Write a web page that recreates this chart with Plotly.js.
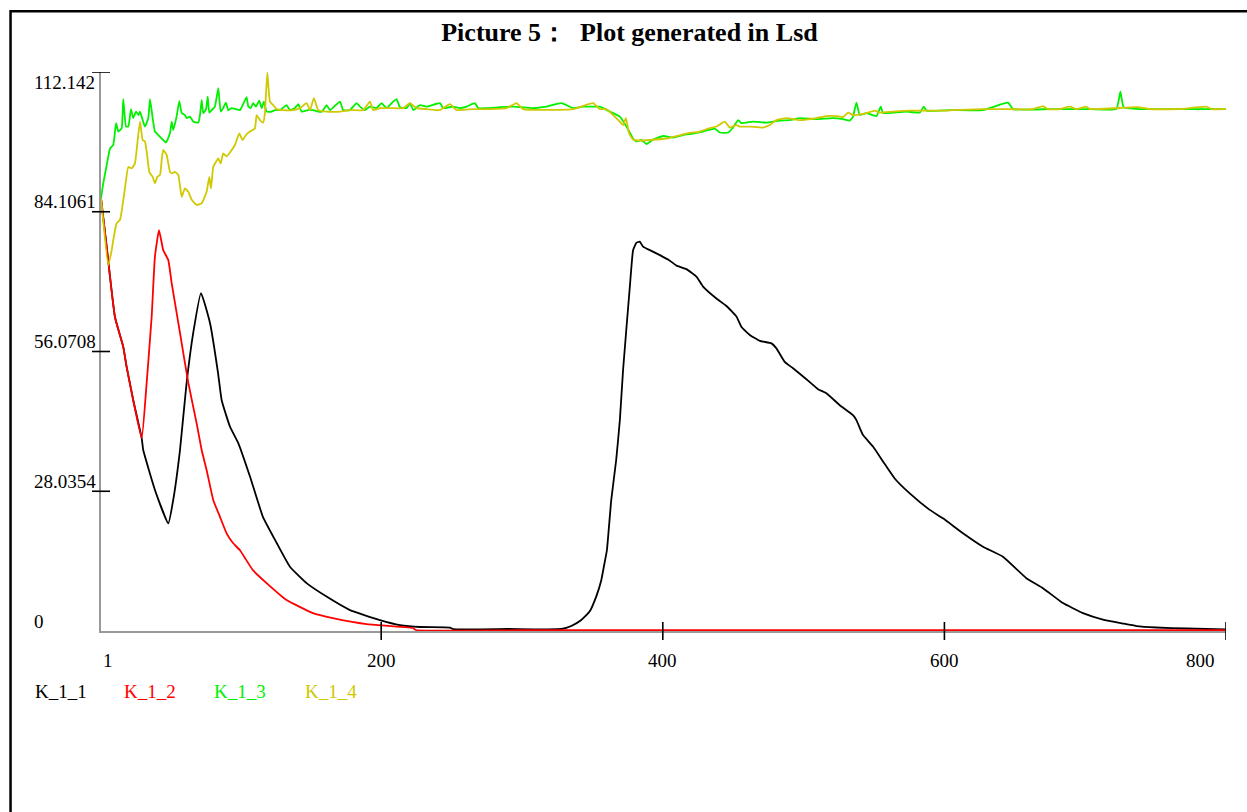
<!DOCTYPE html>
<html>
<head>
<meta charset="utf-8">
<script src="https://cdn.plot.ly/plotly-3.0.1.min.js"></script>
<style>
  html, body { margin: 0; padding: 0; background: #ffffff; }
  #chart { width: 1247px; height: 812px; }
</style>
</head>
<body>
<div id="chart"></div>
<script>
// ---------- data (time step, value) ----------
const chartTitle = "Picture 5：  Plot generated in Lsd";
const seriesNames = ["K_1_1", "K_1_2", "K_1_3", "K_1_4"];

const xTickVals = [1, 200, 400, 600, 800];
const xTickText = ["1", "200", "400", "600", "800"];
const yTickVals = [0, 28.0354, 56.0708, 84.1061, 112.142];
const yTickText = ["0", "28.0354", "56.0708", "84.1061", "112.142"];

const K_1_1 = [
  [1,86.8],[5.3,76.4],[10.9,63.0],[16.8,57.0],[19.2,53.0],[23.9,46.3],[29.9,38.7],
  [31.0,36.3],[39.3,28.3],[48.8,21.6],[52.3,26.3],[57.1,36.3],[61.8,49.8],[66.5,59.8],
  [72.0,67.8],[78.4,61.8],[84.1,51.8],[86.7,46.3],[92.6,41.0],[98.5,37.7],[106.8,31.0],
  [116.0,22.9],[125.7,17.7],[135.2,12.9],[147.0,9.6],[161.2,6.9],[177.8,4.2],[199.1,2.2],
  [213.3,1.2],[227.5,0.8],[248.8,0.7],[251,0.4],[290,0.4],[328.1,0.4],[335.0,1.0],
  [342.1,2.2],[348.0,3.9],[352.7,6.9],[356.3,10.2],[358.6,13.6],[360.3,16.2],[363.4,26.3],
  [366.9,34.3],[369.5,42.3],[371.8,52.4],[376.6,69.1],[378.9,76.4],
  [381.3,77.9],[383.7,78.1],[386.0,77.1],[390.8,76.4],[397.9,75.4],[405.0,74.3],[409.7,73.3],
  [416.8,72.6],[423.9,71.1],[428.6,69.1],[438.1,66.7],[445.2,65.2],[452.3,63.1],[455.9,61.0],
  [461.8,59.4],[468.9,58.2],[477.2,57.7],[480.7,56.7],[486.6,54.0],[492.5,52.7],[502.0,50.5],
  [510.3,48.5],[516.2,47.7],[525.7,45.3],[535.1,43.3],[537.5,42.3],[542.2,39.3],[549.3,37.0],
  [556.4,34.0],[564.7,30.6],[575.4,27.6],[589.6,24.3],[599.0,22.6],[613.2,19.6],[627.4,16.9],
  [641.6,14.9],[658.2,10.6],[670.0,8.6],[684.2,5.6],[698.4,3.6],[712.6,2.3],[726.8,1.5],
  [736.3,1.0],[750.5,0.7],[771.8,0.5],[800,0.3]
];

const K_1_2 = [
  [1,86.8],[5.3,76.4],[10.9,63.0],[16.8,57.0],[19.2,53.0],[23.9,46.3],[29.9,38.7],
  [33.4,49.7],[37.0,63.1],[39.3,75.1],[42.2,80.4],[45.2,76.4],[48.8,74.4],[51.2,69.8],
  [57.1,59.8],[63.0,49.8],[68.9,41.7],[72.5,36.3],[76.0,32.3],[80.7,26.3],[85.5,22.9],
  [90.2,19.6],[94.9,17.6],[99.7,16.2],
  [108.9,12.2],[118.6,9.6],[132.8,6.2],[151.5,3.6],[165.7,2.6],[189.6,1.4],[222.5,0.6],
  [224.6,0.2],[300,0.15],[500,0.15],[700,0.15],[800,0.15]
];

const K_1_3 = [
  [1,86.8],[2.6,89.8],[6.2,95.2],[7.4,96.8],[9.7,97.5],[11.7,101.9],[13.3,100.2],[15.7,100.9],
  [16.8,106.7],[18.8,101.2],[20.4,101.2],[22.3,104.7],[23.9,102.9],[25.9,104.2],[27.5,103.5],
  [28.7,104.2],[30.6,102.5],[32.2,101.2],[34.6,102.9],[35.8,106.7],[37.7,102.9],[39.3,100.2],
  [41.7,99.5],[44.1,98.8],[47.2,98.0],[50.0,99.9],[51.2,102.2],[52.3,100.5],[54.7,103.2],
  [56.6,106.3],[58.3,103.9],[60.6,103.5],[61.8,102.9],[64.2,103.2],[66.5,102.2],[70.1,102.0],
  [71.3,103.5],[72.5,106.5],[73.6,103.9],[75.6,104.7],[76.8,107.2],[77.9,104.0],[79.6,104.5],
  [81.9,105.2],[84.3,108.9],[86.0,104.2],[87.8,104.9],[89.7,106.0],[91.4,104.5],[93.8,104.9],
  [96.8,104.7],[99.7,104.5],[104.4,107.1],[105.6,105.2],[107.3,104.9],[109.1,105.9],[111.0,105.2],
  [113.4,106.4],[115.1,104.9],[116.7,106.2],[118.6,104.2],[122.2,104.2],[124.5,104.5],[128.1,104.5],
  [132.8,105.5],[135.2,104.5],[138.7,104.9],[141.1,105.7],[143.5,104.2],[148.0,104.5],[151.5,104.5],
  [155.3,104.2],[157.9,104.2],[161.2,105.5],[163.6,104.5],[170.7,106.2],[173.0,104.5],[177.8,104.5],
  [182.5,105.9],[184.9,105.2],[188.4,104.5],[192.0,105.2],[196.7,104.9],[200.3,105.9],[203.8,104.9],
  [208.5,106.2],[210.9,106.7],[213.3,105.1],[218.0,104.9],[220.4,105.9],[222.8,104.5],[227.5,105.5],
  [232.2,105.2],[241.7,105.9],[244.0,104.9],[251.1,105.2],[255.9,104.9],[260.6,105.2],[266.5,105.9],
  [268.9,104.9],[274.8,104.9],[293.7,105.2],[307.9,104.9],[317.4,105.2],[328.1,105.9],[336.3,104.9],
  [343.4,105.2],[350.5,105.2],[355.3,105.2],[357.6,104.9],[362.4,104.2],[364.7,103.9],[369.5,103.2],
  [374.2,101.2],[378.9,98.8],[381.3,98.2],[384.9,98.5],[388.4,97.7],[393.1,98.6],[400.2,99.3],
  [407.3,99.0],[414.4,99.5],[421.5,99.8],[428.6,100.2],[436.9,100.8],[440.5,100.0],[446.4,100.0],
  [449.9,101.0],[453.5,102.5],[455.9,101.9],[464.1,102.2],[473.6,102.0],[483.1,102.4],[490.2,102.5],
  [497.3,102.9],[509.1,102.7],[520.9,102.9],[528.0,102.7],[532.8,102.4],[535.1,103.2],[537.5,106.0],
  [539.9,103.5],[544.6,103.9],[551.7,103.3],[554.8,105.2],[556.4,103.9],[563.5,104.0],[573.0,104.2],
  [582.5,104.0],[585.3,105.2],[587.2,104.4],[603.8,104.5],[627.4,104.5],[645.2,106.0],[648.7,104.7],
  [674.8,104.7],[703.2,104.7],[722.1,104.7],[725.0,108.2],[727.3,105.1],[738.7,104.7],[767.1,104.7],
  [800,104.7]
];

const K_1_4 = [
  [1,86.8],[6.2,73.4],[8.6,76.4],[9.7,78.4],[12.1,81.8],[14.5,82.5],[18.0,88.8],[20.4,93.1],
  [22.8,92.8],[25.1,93.8],[26.8,97.8],[28.7,102.2],[30.6,98.5],[32.2,98.2],[33.9,95.2],[35.3,92.1],
  [37.7,91.1],[39.3,89.8],[41.0,91.1],[42.9,91.5],[44.1,94.5],[45.2,96.5],[47.6,95.5],[50.0,92.1],
  [51.2,91.8],[53.5,92.1],[55.9,91.5],[58.3,87.1],[60.6,88.8],[63.0,88.1],[65.4,86.5],[68.9,85.5],
  [72.5,85.8],[76.0,88.1],[77.9,91.1],[79.1,88.8],[80.7,93.1],[82.6,94.1],[84.3,94.8],[86.0,93.8],
  [87.8,95.8],[90.2,95.2],[93.1,96.2],[96.1,97.5],[99.2,99.8],[101.6,98.5],[103.9,99.5],[106.8,100.2],
  [110.3,100.8],[111.5,103.5],[113.9,102.5],[116.2,102.0],[117.4,103.9],[119.1,112.0],[121.0,106.2],
  [123.3,105.5],[125.7,104.7],[130.2,104.5],[137.3,104.5],[142.3,104.9],[147.0,105.9],[149.4,104.5],
  [152.2,106.9],[155.3,104.5],[161.2,104.2],[170.7,104.2],[177.8,104.5],[187.2,104.5],[192.0,106.2],
  [194.3,104.5],[199.1,104.9],[206.2,104.9],[215.6,104.9],[220.4,105.9],[225.1,104.9],[232.2,104.7],
  [241.7,104.5],[248.8,105.7],[253.5,104.5],[265.3,104.7],[277.2,104.7],[289.0,104.9],[296.1,105.9],
  [300.8,104.7],[336.3,104.7],[350.5,105.9],[355.3,104.7],[360.0,104.7],[364.7,103.5],[369.5,102.2],
  [371.8,101.5],[373.8,102.9],[376.1,99.8],[378.9,98.6],[383.7,98.4],[390.8,98.5],[402.6,98.8],
  [409.7,99.3],[416.8,99.8],[426.3,100.2],[432.2,100.8],[438.1,101.2],[444.0,102.2],[447.6,101.0],
  [452.3,101.5],[454.7,101.2],[461.8,101.2],[471.2,101.0],[476.0,101.5],[480.7,102.5],[487.8,102.9],
  [497.3,102.5],[509.1,102.9],[516.2,103.3],[523.3,103.3],[528.0,103.1],[531.6,104.0],[535.1,103.5],
  [544.6,103.9],[550.5,104.4],[554.0,104.0],[563.5,104.2],[575.4,104.4],[599.0,104.4],[606.1,104.5],
  [627.4,104.7],[640.5,104.7],[662.9,104.7],[670.0,105.3],[673.6,104.7],[681.9,104.7],[689.0,105.2],
  [693.8,104.7],[700.8,105.2],[703.2,104.7],[737.5,105.1],[745.8,104.7],[767.1,104.7],[786.0,105.2],
  [789.8,104.7],[800,104.7]
];

// ---------- styling ----------
const seriesData = [K_1_1, K_1_2, K_1_3, K_1_4];
const seriesColors = ["#000000", "#ff0000", "#00f000", "#d0c800"];
const serif = "Liberation Serif, Times New Roman, serif";

const traces = seriesData.map((pts, i) => ({
  type: "scatter",
  mode: "lines",
  name: seriesNames[i],
  x: pts.map(p => p[0]),
  y: pts.map(p => p[1]),
  line: { color: seriesColors[i], width: 1.8, shape: "spline", smoothing: 0.4 },
  hoverinfo: "skip"
}));

const shapes = [];
// outer frame
shapes.push({
  type: "rect", xref: "paper", yref: "paper",
  x0: -0.0804, x1: 1.06, y0: -0.45, y1: 1.1088,
  line: { color: "#000000", width: 2.5 }, fillcolor: "rgba(0,0,0,0)", layer: "above"
});
// crossing tick marks on the x axis
xTickVals.forEach(v => {
  if (v === xTickVals[0]) return;
  shapes.push({
    type: "line", xref: "x", yref: "paper", ysizemode: "pixel", yanchor: 0,
    x0: v, x1: v, y0: -9, y1: 9,
    line: { color: "#000000", width: 1.6 }, layer: "above"
  });
});
// crossing tick marks on the y axis
yTickVals.forEach(v => {
  if (v === yTickVals[0]) return;
  shapes.push({
    type: "line", yref: "y", xref: "paper", xsizemode: "pixel", xanchor: 0,
    y0: v, y1: v, x0: -9, x1: 9,
    line: { color: "#000000", width: 1.6 }, layer: "above"
  });
});

const annotations = [];
const tickFont = { family: serif, size: 19, color: "#000000" };
// x tick labels
xTickVals.forEach((v, i) => {
  const last = i === xTickVals.length - 1;
  const first = i === 0;
  annotations.push({
    xref: "x", yref: "paper", x: v, y: -0.053,
    text: xTickText[i], showarrow: false, font: tickFont,
    xanchor: first ? "left" : (last ? "right" : "center"),
    xshift: last ? -9 : 0, yanchor: "middle"
  });
});
// y tick labels
yTickVals.forEach((v, i) => {
  const top = i === yTickVals.length - 1;
  annotations.push({
    xref: "paper", yref: "y", x: -0.0613, y: v,
    text: yTickText[i], showarrow: false, font: tickFont,
    xanchor: "left", yanchor: "middle", yshift: top ? -10 : 10
  });
});
// legend as coloured text
const legendX = [-0.0605, 0.0187, 0.0987, 0.1796];
seriesNames.forEach((n, i) => {
  annotations.push({
    xref: "paper", yref: "paper", x: legendX[i], y: -0.1091,
    text: n, showarrow: false,
    font: { family: serif, size: 19, color: seriesColors[i] },
    xanchor: "left", yanchor: "middle"
  });
});

const layout = {
  width: 1247, height: 812,
  paper_bgcolor: "#ffffff", plot_bgcolor: "#ffffff",
  margin: { l: 101, r: 21, t: 72, b: 181, pad: 0 },
  showlegend: false,
  title: {
    text: "<b>" + chartTitle + "</b>",
    font: { family: serif, size: 26, color: "#000000" },
    xref: "container", x: 0.5048, xanchor: "center",
    yref: "container", y: 0.9606, yanchor: "middle"
  },
  xaxis: {
    range: [xTickVals[0], xTickVals[xTickVals.length - 1]],
    showgrid: false, zeroline: false, showticklabels: false, ticks: "",
    showline: true, linecolor: "#999999", linewidth: 2
  },
  yaxis: {
    range: [yTickVals[0], yTickVals[yTickVals.length - 1]],
    showgrid: false, zeroline: false, showticklabels: false, ticks: "",
    showline: true, linecolor: "#999999", linewidth: 2
  },
  shapes: shapes,
  annotations: annotations
};

Plotly.newPlot("chart", traces, layout, { staticPlot: true, displayModeBar: false });
</script>
</body>
</html>
